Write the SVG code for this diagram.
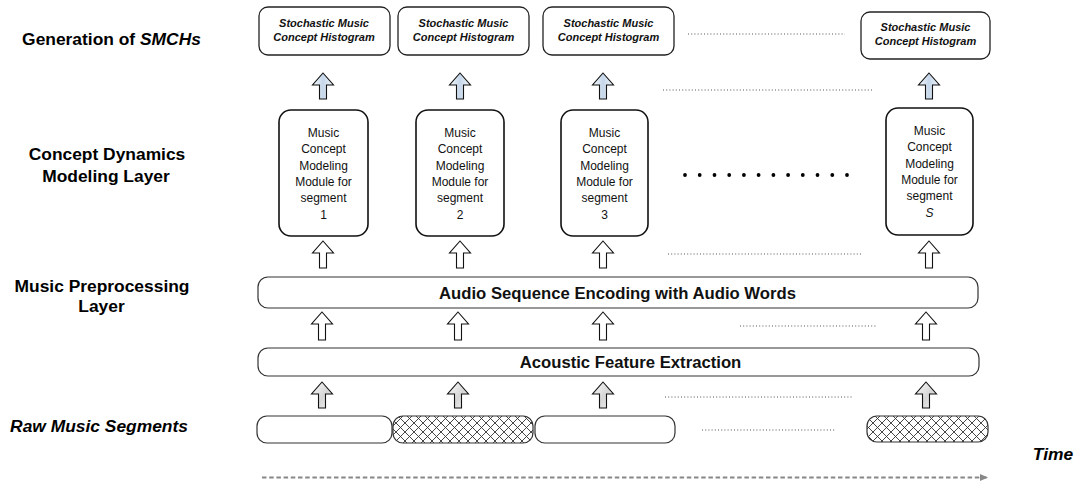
<svg xmlns="http://www.w3.org/2000/svg" width="1076" height="485" viewBox="0 0 1076 485">
<defs>
<style>
.lbl{font-family:"Liberation Sans",Arial,sans-serif;font-weight:bold;font-size:17.4px;fill:#000;text-anchor:middle}
.it{font-style:italic}
.hist{fill:#fff;stroke:#222;stroke-width:1.3}
.histt{font-family:"Liberation Sans",Arial,sans-serif;font-weight:bold;font-style:italic;font-size:11px;fill:#111;text-anchor:middle}
.mod{fill:#fff;stroke:#111;stroke-width:1.6}
.modt{font-family:"Liberation Sans",Arial,sans-serif;font-size:12px;fill:#111;text-anchor:middle}
.bar{fill:#fff;stroke:#333;stroke-width:1.2}
.bart{font-family:"Liberation Sans",Arial,sans-serif;font-weight:bold;font-size:16.7px;fill:#111;text-anchor:middle}
.seg{stroke:#333;stroke-width:1.2}
.dots{stroke:#555;stroke-width:1;stroke-dasharray:1 2.2;fill:none}
.arw{stroke:#111;stroke-width:1.1;stroke-linejoin:miter}
.blue{fill:url(#gBlue)}
.white{fill:#fff}
.gray{fill:url(#gGray)}
</style>
<linearGradient id="gBlue" x1="0" y1="0" x2="1" y2="0">
<stop offset="0" stop-color="#f6f9fc"/>
<stop offset="0.5" stop-color="#c6d7ea"/>
<stop offset="1" stop-color="#f2f6fb"/>
</linearGradient>
<linearGradient id="gGray" x1="0" y1="0" x2="1" y2="1">
<stop offset="0" stop-color="#fcfcfc"/>
<stop offset="0.55" stop-color="#d6d6d6"/>
<stop offset="1" stop-color="#f4f4f4"/>
</linearGradient>
<pattern id="hatch" patternUnits="userSpaceOnUse" width="9" height="9">
<rect width="9" height="9" fill="#fff"/>
<path d="M0,0 L9,9 M9,0 L0,9" stroke="#333" stroke-width="0.9"/>
</pattern>
<marker id="timeHead" markerWidth="8" markerHeight="8" refX="7" refY="4" orient="auto" markerUnits="userSpaceOnUse">
<path d="M0,0.5 L8,4 L0,7.5 Z" fill="#888"/>
</marker>
</defs>
<rect width="1076" height="485" fill="#fff"/>

<g id="layer-labels">
<text class="lbl" x="111.5" y="45">Generation of <tspan class="it">SMCHs</tspan></text>
<text class="lbl" x="107" y="160">Concept Dynamics</text>
<text class="lbl" x="106" y="182">Modeling Layer</text>
<text class="lbl" x="102" y="292">Music Preprocessing</text>
<text class="lbl" x="101.5" y="312">Layer</text>
<text class="lbl it" x="99" y="432">Raw Music Segments</text>
<text class="lbl it" x="1053" y="460">Time</text>
</g>

<g id="hist1"><rect class="hist" x="259" y="7" width="131" height="48" rx="9"/>
<text class="histt" x="324" y="27">Stochastic Music</text><text class="histt" x="324" y="40.5">Concept Histogram</text></g>
<g id="hist2"><rect class="hist" x="398" y="7" width="131" height="48" rx="9"/>
<text class="histt" x="463.5" y="27">Stochastic Music</text><text class="histt" x="463.5" y="40.5">Concept Histogram</text></g>
<g id="hist3"><rect class="hist" x="543" y="7" width="131" height="48" rx="9"/>
<text class="histt" x="608.5" y="27">Stochastic Music</text><text class="histt" x="608.5" y="40.5">Concept Histogram</text></g>
<g id="histS"><rect class="hist" x="861" y="12" width="129" height="47" rx="9"/>
<text class="histt" x="925.5" y="30.5">Stochastic Music</text><text class="histt" x="925.5" y="44.5">Concept Histogram</text></g>

<g id="module1"><rect class="mod" x="279" y="110" width="89" height="126" rx="12"/>
<text class="modt" x="323.5"><tspan x="323.5" y="137">Music</tspan><tspan x="323.5" y="153.3">Concept</tspan><tspan x="323.5" y="169.6">Modeling</tspan><tspan x="323.5" y="185.9">Module for</tspan><tspan x="323.5" y="202.2">segment</tspan><tspan x="323.5" y="218.5">1</tspan></text></g>
<g id="module2"><rect class="mod" x="416" y="110" width="88" height="126" rx="12"/>
<text class="modt" x="460"><tspan x="460" y="137">Music</tspan><tspan x="460" y="153.3">Concept</tspan><tspan x="460" y="169.6">Modeling</tspan><tspan x="460" y="185.9">Module for</tspan><tspan x="460" y="202.2">segment</tspan><tspan x="460" y="218.5">2</tspan></text></g>
<g id="module3"><rect class="mod" x="561" y="110" width="87" height="126" rx="12"/>
<text class="modt" x="604.5"><tspan x="604.5" y="137">Music</tspan><tspan x="604.5" y="153.3">Concept</tspan><tspan x="604.5" y="169.6">Modeling</tspan><tspan x="604.5" y="185.9">Module for</tspan><tspan x="604.5" y="202.2">segment</tspan><tspan x="604.5" y="218.5">3</tspan></text></g>
<g id="moduleS"><rect class="mod" x="886" y="108" width="87" height="127" rx="12"/>
<text class="modt" x="929.5"><tspan x="929.5" y="135">Music</tspan><tspan x="929.5" y="151.3">Concept</tspan><tspan x="929.5" y="167.6">Modeling</tspan><tspan x="929.5" y="183.9">Module for</tspan><tspan x="929.5" y="200.2">segment</tspan><tspan x="929.5" y="216.5" font-style="italic">S</tspan></text></g>

<g id="audio-encoding"><rect class="bar" x="258" y="277" width="720" height="31" rx="10"/>
<text class="bart" x="617.5" y="298.5">Audio Sequence Encoding with Audio Words</text></g>
<g id="feature-extraction"><rect class="bar" x="258" y="348" width="721" height="28" rx="10"/>
<text class="bart" x="630.5" y="368">Acoustic Feature Extraction</text></g>

<g id="segment1"><rect class="seg" fill="#fff" x="257" y="416" width="135" height="27" rx="10"/></g>
<g id="segment2"><rect class="seg" fill="url(#hatch)" x="393" y="416" width="140" height="27" rx="10"/></g>
<g id="segment3"><rect class="seg" fill="#fff" x="535" y="416" width="140" height="27" rx="10"/></g>
<g id="segmentS"><rect class="seg" fill="url(#hatch)" x="867" y="416" width="121" height="26" rx="10"/></g>

<g id="connectors">
<g class="arw blue">
<path d="M323,73 l10.5,12 h-7 v14 h-7 v-14 h-7 Z"/>
<path d="M460,73 l10.5,12 h-7 v14 h-7 v-14 h-7 Z"/>
<path d="M603,73 l10.5,12 h-7 v14 h-7 v-14 h-7 Z"/>
<path d="M929,73 l10.5,12 h-7 v14 h-7 v-14 h-7 Z"/>
</g>
<g class="arw white">
<path d="M323,241 l10.5,12 h-7 v15 h-7 v-15 h-7 Z"/>
<path d="M460,241 l10.5,12 h-7 v15 h-7 v-15 h-7 Z"/>
<path d="M603,241 l10.5,12 h-7 v15 h-7 v-15 h-7 Z"/>
<path d="M929,241 l10.5,12 h-7 v15 h-7 v-15 h-7 Z"/>
<path d="M322,312 l10.5,12 h-7 v16 h-7 v-16 h-7 Z"/>
<path d="M458,312 l10.5,12 h-7 v16 h-7 v-16 h-7 Z"/>
<path d="M603,312 l10.5,12 h-7 v16 h-7 v-16 h-7 Z"/>
<path d="M926,312 l10.5,12 h-7 v16 h-7 v-16 h-7 Z"/>
</g>
<g class="arw gray">
<path d="M322,382 l10.5,12 h-7 v14 h-7 v-14 h-7 Z"/>
<path d="M458,382 l10.5,12 h-7 v14 h-7 v-14 h-7 Z"/>
<path d="M603,382 l10.5,12 h-7 v14 h-7 v-14 h-7 Z"/>
<path d="M926,382 l10.5,12 h-7 v14 h-7 v-14 h-7 Z"/>
</g>
<line x1="262" y1="477.5" x2="987" y2="477.5" stroke="#888" stroke-width="2" stroke-dasharray="4.5 2.7" marker-end="url(#timeHead)"/>
</g>

<g id="ellipsis">
<line class="dots" x1="688" y1="34" x2="845" y2="34"/>
<line class="dots" x1="663" y1="90" x2="873" y2="90"/>
<line class="dots" x1="668" y1="254" x2="863" y2="254"/>
<line class="dots" x1="740" y1="326" x2="877" y2="326"/>
<line class="dots" x1="665" y1="397" x2="853" y2="397"/>
<line class="dots" x1="702" y1="430" x2="835" y2="430"/>
<g fill="#000">
<circle cx="685" cy="175" r="1.9"/><circle cx="699.7" cy="175" r="1.9"/><circle cx="714.5" cy="175" r="1.9"/><circle cx="729.2" cy="175" r="1.9"/><circle cx="743.9" cy="175" r="1.9"/><circle cx="758.6" cy="175" r="1.9"/><circle cx="773.4" cy="175" r="1.9"/><circle cx="788.1" cy="175" r="1.9"/><circle cx="802.8" cy="175" r="1.9"/><circle cx="817.5" cy="175" r="1.9"/><circle cx="832.3" cy="175" r="1.9"/><circle cx="847" cy="175" r="1.9"/>
</g>
</g>
</svg>
